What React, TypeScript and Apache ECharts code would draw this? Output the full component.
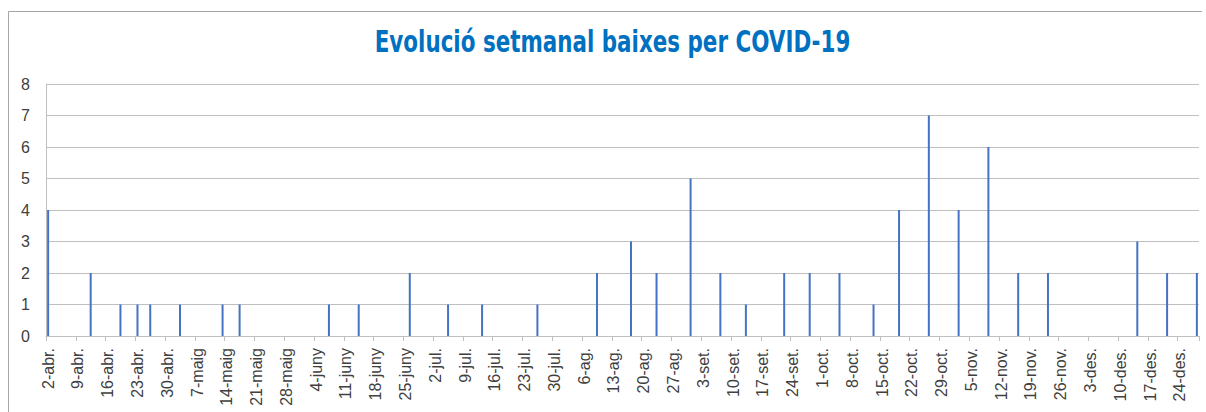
import React, { useEffect, useRef } from "react";
import * as echarts from "echarts";

const TITLE = "Evolució setmanal baixes per COVID-19";
const MONTHS = ["gen.", "febr.", "març", "abr.", "maig", "juny", "jul.", "ag.", "set.", "oct.", "nov.", "des."];
const START = { year: 2020, month: 3, day: 2 };
const END = { year: 2020, month: 11, day: 28 };

const barDates = [
  "2-abr.", "12-abr.", "19-abr.", "23-abr.", "26-abr.", "3-maig", "13-maig", "17-maig",
  "7-juny", "14-juny", "26-juny", "5-jul.", "13-jul.", "26-jul.", "9-ag.", "17-ag.",
  "23-ag.", "31-ag.", "7-set.", "13-set.", "22-set.", "28-set.", "5-oct.", "13-oct.",
  "19-oct.", "26-oct.", "2-nov.", "9-nov.", "16-nov.", "23-nov.", "14-des.", "21-des.", "28-des.",
];
const barValues = [
  4, 2, 1, 1, 1, 1, 1, 1,
  1, 1, 2, 1, 1, 1, 2, 3,
  2, 5, 2, 1, 2, 2, 2, 1,
  4, 7, 4, 6, 2, 2, 3, 2, 2,
];
const yTicks = [0, 1, 2, 3, 4, 5, 6, 7, 8];

function buildCategories(): string[] {
  const out: string[] = [];
  const d = new Date(Date.UTC(START.year, START.month, START.day));
  const end = new Date(Date.UTC(END.year, END.month, END.day));
  while (d.getTime() <= end.getTime()) {
    out.push(d.getUTCDate() + "-" + MONTHS[d.getUTCMonth()]);
    d.setUTCDate(d.getUTCDate() + 1);
  }
  return out;
}

const TITLE_FONT = "bold 30px 'DejaVu Sans', sans-serif";
const TITLE_WIDTH = 476;

export default function App() {
  const ref = useRef<HTMLDivElement>(null);
  useEffect(() => {
    document.body.style.margin = "0";
    if (!ref.current) return;
    const chart = echarts.init(ref.current, null, { renderer: "svg" });
    const categories = buildCategories();
    const lookup: Record<string, number> = {};
    barDates.forEach((k, i) => (lookup[k] = barValues[i]));
    const data = categories.map((c) => (c in lookup ? lookup[c] : 0));

    let scaleX = 0.65;
    const ctx = document.createElement("canvas").getContext("2d");
    if (ctx) {
      ctx.font = TITLE_FONT;
      const w = ctx.measureText(TITLE).width;
      if (w > 0) scaleX = TITLE_WIDTH / w;
    }

    chart.setOption({
      animation: false,
      backgroundColor: "#ffffff",
      grid: { left: 46, right: 7, top: 84, bottom: 76, containLabel: false },
      graphic: [
        {
          type: "polyline",
          shape: { points: [[8.5, 420], [8.5, 11.5], [1202, 11.5]] },
          style: { stroke: "#a6a6a6", lineWidth: 1, fill: "none" },
          silent: true,
        },
        {
          type: "text",
          x: 612.5,
          y: 42,
          scaleX,
          style: {
            text: TITLE,
            fill: "#0070c0",
            font: TITLE_FONT,
            textAlign: "center",
            textVerticalAlign: "middle",
          },
        },
      ],
      xAxis: {
        type: "category",
        data: categories,
        boundaryGap: true,
        axisLine: { show: true, lineStyle: { color: "#bfbfbf", width: 1 } },
        axisTick: { show: true, interval: 6, length: 5, lineStyle: { color: "#bfbfbf" } },
        axisLabel: {
          interval: 6,
          rotate: 90,
          margin: 12,
          color: "#404040",
          fontSize: 16,
          fontFamily: "'Liberation Sans', Arial, sans-serif",
        },
        splitLine: { show: false },
      },
      yAxis: {
        type: "value",
        min: yTicks[0],
        max: yTicks[yTicks.length - 1],
        interval: 1,
        axisLine: { show: true, lineStyle: { color: "#bfbfbf", width: 1 } },
        axisTick: { show: false },
        axisLabel: {
          margin: 16,
          color: "#404040",
          fontSize: 16,
          fontFamily: "'Liberation Sans', Arial, sans-serif",
        },
        splitLine: { show: true, lineStyle: { color: "#bfbfbf", width: 1 } },
      },
      series: [
        {
          type: "bar",
          data,
          barWidth: 2,
          itemStyle: { color: "#4472c4" },
        },
      ],
    });
    return () => chart.dispose();
  }, []);
  return <div ref={ref} style={{ width: 1206, height: 412 }} />;
}
